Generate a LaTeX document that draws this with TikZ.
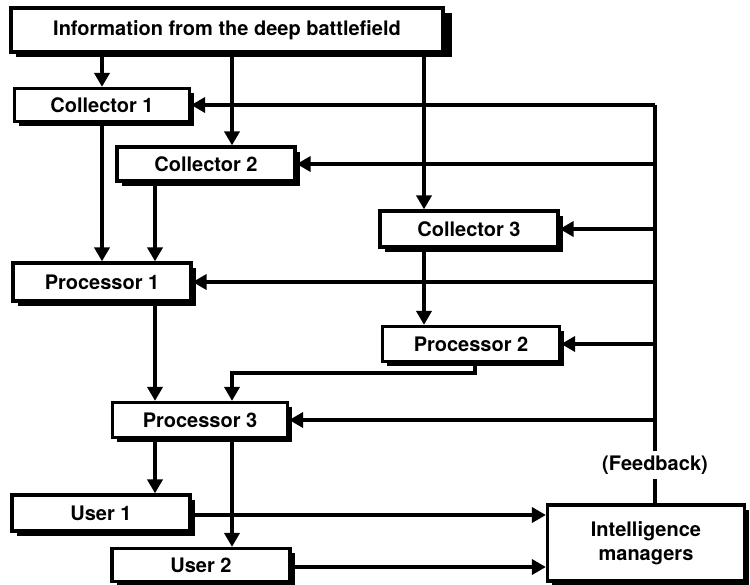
\documentclass[tikz,border=0pt]{standalone}
\usepackage{fontspec}
\setmainfont{TeX Gyre Heros}
\usepackage{tikz}
\usetikzlibrary{positioning}
\usetikzlibrary{arrows.meta}
\usetikzlibrary{shadows}
\pgfdeclarelayer{nodelayer}
\pgfdeclarelayer{edgelayer}
\pgfsetlayers{nodelayer,edgelayer,main}
\tikzset{
    none/.style = {inner sep=0pt},
    box/.style = {draw, line width=1.6pt, fill=white, inner sep=0pt, align=center,
        font=\bfseries\fontsize{10}{12}\selectfont,
        drop shadow={opacity=1, fill=black, shadow xshift=2.4pt, shadow yshift=-2.4pt}},
    tag/.style = {inner sep=2pt, font=\bfseries\fontsize{10}{12}\selectfont},
    flow/.style = {line width=2.2pt, -{Triangle[length=7pt, width=7.5pt]}},
    plain/.style = {line width=2.2pt}
}

\begin{document}
\begin{tikzpicture}[x=0.5pt, y=-0.5pt]
    \useasboundingbox (0, 0) rectangle (750, 584);
    \begin{pgfonlayer}{nodelayer}
        \node [style=box, minimum width=216pt, minimum height=22pt,
            drop shadow={opacity=1, fill=black, shadow xshift=4.5pt, shadow yshift=-2.4pt}] (info) at (227, 30) {Information from the deep battlefield};
        \node [style=box, minimum width=87.5pt, minimum height=16.5pt] (col1) at (102, 105) {Collector 1};
        \node [style=box, minimum width=89pt, minimum height=17pt] (col2) at (206, 164) {Collector 2};
        \node [style=box, minimum width=89pt, minimum height=18pt] (col3) at (469, 229) {Collector 3};
        \node [style=box, minimum width=89pt, minimum height=19pt] (proc1) at (102, 282) {Processor 1};
        \node [style=box, minimum width=88.5pt, minimum height=17.5pt] (proc2) at (471, 344) {Processor 2};
        \node [style=box, minimum width=87.5pt, minimum height=17.5pt] (proc3) at (200, 420) {Processor 3};
        \node [style=box, minimum width=89pt, minimum height=18pt] (user1) at (101, 513) {User 1};
        \node [style=box, minimum width=89pt, minimum height=16.5pt] (user2) at (201, 565) {User 2};
        \node [style=box, minimum width=98.5pt, minimum height=38pt] (mgr) at (646, 543) {Intelligence\\managers};
        \node [style=tag] (fb) at (655, 465) {(Feedback)};
        % lanes and bends
        \node [style=none] (lanea) at (155, 0) {};
        \node [style=none] (laneb) at (232, 0) {};
        \node [style=none] (lanec) at (424, 0) {};
        \node [style=none] (fbtop) at (655, 105) {};
        \node [style=none] (bend) at (475, 373) {};
    \end{pgfonlayer}
    \begin{pgfonlayer}{edgelayer}
        % Down from the deep battlefield
        \draw [style=flow] (col1 |- info.south) to (col1);
        \draw [style=flow] (laneb |- info.south) to (laneb |- col2.north);
        \draw [style=flow] (lanec |- info.south) to (lanec |- col3.north);
        % Collectors to processors
        \draw [style=flow] (col1) to (proc1);
        \draw [style=flow] (lanea |- col2.south) to (lanea |- proc1.north);
        \draw [style=flow] (lanec |- col3.south) to (lanec |- proc2.north);
        \draw [style=flow] (lanea |- proc1.south) to (lanea |- proc3.north);
        \draw [style=flow] (bend |- proc2.south) -- (bend.center) -| (laneb |- proc3.north);
        % Processor 3 to users
        \draw [style=flow] (lanea |- proc3.south) to (lanea |- user1.north);
        \draw [style=flow] (laneb |- proc3.south) to (laneb |- user2.north);
        \draw [style=flow] ([yshift=-1pt]user1.east) to ([yshift=-1pt]user1.east -| mgr.west);
        \draw [style=flow] ([yshift=-1pt]user2.east) to ([yshift=-1pt]user2.east -| mgr.west);
        % Feedback from the managers
        \draw [style=plain] (fbtop |- mgr.north) to (fb.south);
        \draw [style=plain] (fb.north) to (fbtop.center);
        \draw [style=flow] (fbtop.center) to (col1);
        \draw [style=flow] (fbtop |- col2) to (col2);
        \draw [style=flow] (fbtop |- col3) to (col3);
        \draw [style=flow] (fbtop |- proc1) to (proc1);
        \draw [style=flow] (fbtop |- proc2) to (proc2);
        \draw [style=flow] (fbtop |- proc3) to (proc3);
    \end{pgfonlayer}
\end{tikzpicture}
\end{document}
